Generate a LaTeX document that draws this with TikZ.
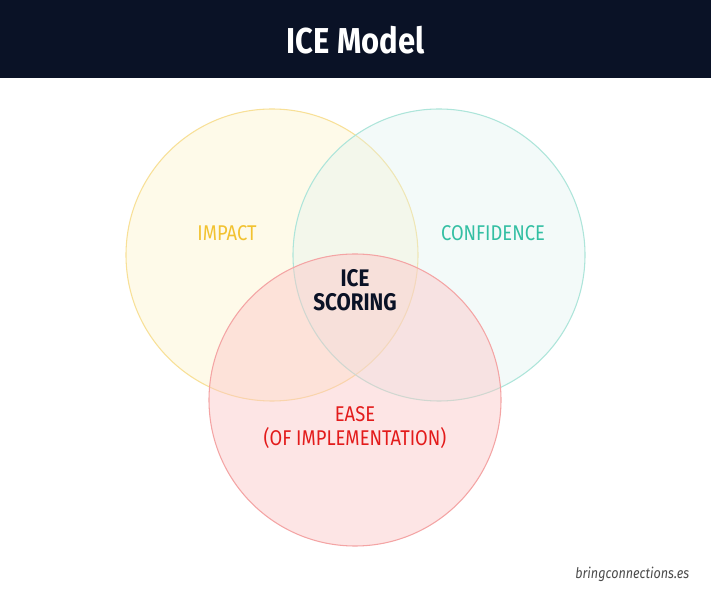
\documentclass[tikz,border=0pt]{standalone}
\usepackage{fontspec}
\setmainfont{Fira Sans}[FakeStretch=0.86]
\definecolor{headbg}{HTML}{0A1226}
\definecolor{impactc}{HTML}{F2C230}
\definecolor{confc}{HTML}{33BFA3}
\definecolor{easec}{HTML}{E31B1B}
\definecolor{impactfill}{HTML}{FDF3C8}
\definecolor{conffill}{HTML}{DFF3EF}
\definecolor{easefill}{HTML}{FCC6C6}

\begin{document}
\begin{tikzpicture}[
    x=0.75pt, y=-0.75pt,
    every node/.style={align=center, font=\fontsize{16}{18}\selectfont},
    venn/.style={circle, minimum size=292*0.75pt, line width=0.8pt}
  ]
    \useasboundingbox (0,0) rectangle (711,591);
    \fill[white] (0,0) rectangle (711,591);
    % header bar
    \fill[headbg] (0,0) rectangle (711,78);
    \node[text=white, font=\fontsize{27}{32}\selectfont\bfseries] (title) at (355.5,40) {ICE Model};
    % the three circles
    \node[venn, draw=impactc!50, fill=impactfill, fill opacity=0.4, draw opacity=1] (impact) at (272,255) {};
    \node[venn, draw=confc!40, fill=conffill, fill opacity=0.35, draw opacity=1] (conf) at (439,255) {};
    \node[venn, draw=easec!40, fill=easefill, fill opacity=0.45, draw opacity=1] (ease) at (355,400) {};
    % labels
    \node[text=impactc] (impactlbl) at (227,233) {IMPACT};
    \node[text=confc] (conflbl) at (493,233) {CONFIDENCE};
    \node[text=headbg, font=\fontsize{18}{18}\selectfont\bfseries] (core) at (355,290) {ICE\\SCORING};
    \node[text=easec] (easelbl) at (355,428) {EASE\\(OF IMPLEMENTATION)};
    \node[text=black!70, font=\fontsize{11}{13}\selectfont\itshape, anchor=east] (credit) at (694,574) {bringconnections.es};
  \end{tikzpicture}
\end{document}
